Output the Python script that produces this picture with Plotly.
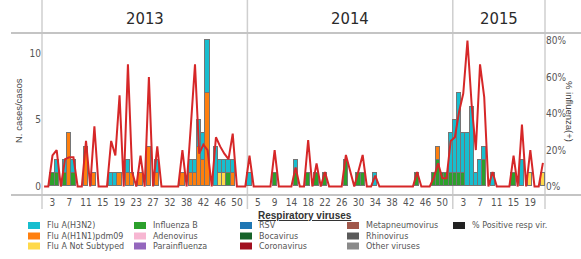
import plotly.graph_objects as go

# ---------------- data ----------------
years = ["2013", "2014", "2015"]
weeks_2013 = [1, 2, 3, 4, 5, 6, 7, 8, 9, 10, 11, 12, 13, 14, 15, 16, 17, 18, 19, 20,
              21, 22, 23, 24, 25, 26, 27, 28, 29, 30, 32, 33, 35, 36, 38, 39, 40, 41, 42, 43,
              44, 45, 46, 47, 48, 49, 50, 51, 52]
weeks_2014 = [3, 4, 5, 6, 7, 8, 9, 10, 11, 13, 14, 15, 16, 17, 18, 19, 20, 21, 22, 23,
              24, 25, 26, 27, 28, 29, 30, 31, 32, 33, 34, 35, 36, 37, 38, 39, 40, 41, 42, 43,
              44, 45, 46, 47, 48, 49, 50, 51, 52]
weeks_2015 = [1, 2, 3, 4, 5, 6, 7, 8, 9, 10, 11, 12, 13, 14, 15, 16, 17, 18, 19, 20, 21, 22]

tick_weeks_2013 = [3, 7, 11, 15, 19, 23, 27, 32, 38, 42, 46, 50]
tick_weeks_2014 = [5, 9, 14, 18, 22, 26, 30, 34, 38, 42, 46, 50]
tick_weeks_2015 = [3, 7, 11, 15, 19]

# Flu A(H3N2)
h3n2_2013 = [0, 0, 0, 1, 0, 1, 0, 1, 0, 0, 0, 0, 0, 0, 0, 0, 1, 1, 0, 0,
             1, 0, 0, 0, 0, 0, 0, 1, 0, 0, 0, 0, 0, 0, 0, 1, 1, 2, 2, 4,
             0, 3, 1, 1, 1, 1, 0, 0, 0]
h3n2_2014 = [1, 0, 0, 0, 0, 0, 0, 0, 0, 0, 0, 1, 0, 0, 0, 0, 0, 0, 0, 0,
             0, 0, 0, 0, 0, 0, 0, 0, 0, 0, 1, 0, 0, 0, 0, 0, 0, 0, 0, 0,
             0, 0, 0, 0, 0, 0, 0, 0, 3]
h3n2_2015 = [4, 6, 3, 4, 6, 1, 2, 1, 0, 1, 0, 0, 0, 0, 0, 0, 2, 0, 0, 0, 0, 0]
# Flu A(H1N1)pdm09
h1n1_2013 = [0, 0, 0, 0, 0, 0, 4, 0, 0, 0, 3, 0, 1, 0, 0, 0, 0, 0, 1, 0,
             1, 1, 0, 1, 0, 3, 0, 1, 0, 0, 0, 0, 0, 1, 0, 1, 1, 3, 2, 7,
             0, 0, 0, 0, 0, 1, 0, 0, 0]
h1n1_2014 = [0, 0, 0, 0, 0, 0, 0, 0, 0, 0, 0, 0, 0, 0, 0, 0, 0, 0, 0, 0,
             0, 0, 0, 0, 0, 0, 0, 0, 0, 0, 0, 0, 0, 0, 0, 0, 0, 0, 0, 0,
             0, 0, 0, 0, 0, 1, 0, 0, 0]
h1n1_2015 = [0, 0, 0, 0, 0, 0, 0, 0, 0, 0, 0, 0, 0, 0, 0, 0, 0, 0, 0, 0, 0, 0]
# Flu A Not Subtyped
notsub_2013 = [0, 0, 0, 0, 0, 0, 0, 0, 0, 0, 0, 0, 0, 0, 0, 0, 0, 0, 0, 0,
               0, 0, 0, 0, 0, 0, 0, 0, 0, 0, 0, 0, 0, 0, 0, 0, 0, 0, 0, 0,
               0, 0, 1, 1, 0, 0, 0, 0, 0]
notsub_2014 = [0, 0, 0, 0, 0, 0, 0, 0, 0, 0, 0, 0, 0, 0, 0, 0, 0, 0, 0, 0,
               0, 0, 0, 0, 0, 0, 0, 0, 0, 0, 0, 0, 0, 0, 0, 0, 0, 0, 0, 0,
               0, 0, 0, 0, 0, 0, 0, 0, 0]
notsub_2015 = [0, 0, 0, 0, 0, 0, 0, 0, 0, 0, 0, 0, 0, 0, 0, 0, 0, 0, 1, 0, 0, 1]
# Influenza B
flub_2013 = [0, 0, 1, 1, 0, 1, 0, 1, 0, 0, 0, 0, 0, 0, 0, 0, 0, 0, 0, 0,
             0, 0, 0, 0, 0, 0, 0, 0, 0, 0, 0, 0, 0, 0, 0, 0, 0, 0, 0, 0,
             0, 0, 0, 0, 1, 0, 0, 0, 0]
flub_2014 = [0, 0, 0, 0, 0, 0, 1, 0, 0, 0, 0, 1, 0, 0, 1, 0, 1, 0, 1, 0,
             0, 0, 0, 2, 0, 0, 1, 1, 0, 0, 0, 0, 0, 0, 0, 0, 0, 0, 0, 0,
             1, 0, 0, 0, 1, 2, 1, 1, 1]
flub_2015 = [1, 1, 1, 0, 0, 0, 0, 2, 0, 0, 0, 0, 0, 0, 1, 0, 0, 0, 0, 0, 0, 0]
# % influenza positive
pct_2013 = [0, 0, 17, 20, 0, 15, 16, 16, 0, 0, 25, 0, 33, 0, 0, 0, 25, 17, 50, 0,
            67, 8, 0, 17, 0, 60, 0, 22, 0, 0, 0, 0, 0, 20, 0, 33, 67, 18, 23, 20,
            0, 27, 22, 18, 15, 29, 0, 0, 0]
pct_2014 = [17, 0, 0, 0, 0, 0, 20, 0, 0, 0, 0, 10.5, 0, 0, 25.5, 0, 12.7, 0, 8, 0,
            0, 0, 0, 17.3, 8.5, 0, 8.5, 17.3, 0, 0, 6, 0, 0, 0, 0, 0, 0, 0, 0, 0,
            8, 0, 0, 0, 5, 12.7, 4.5, 4.5, 25]
pct_2015 = [27, 41, 51, 80, 45, 20, 67, 49, 0, 8, 0, 0, 0, 0, 17, 0, 34, 0, 20, 0, 0, 13]

legend_names = ["Flu A(H3N2)", "Flu A(H1N1)pdm09", "Flu A Not Subtyped",
                "Influenza B", "Adenovirus", "Parainfluenza",
                "RSV", "Bocavirus", "Coronavirus",
                "Metapneumovirus", "Rhinovirus", "Other viruses",
                "% Positive resp vir."]
legend_colors = ["#17becf", "#ff7f0e", "#ffd94a",
                 "#2ca02c", "#f7b6d2", "#9467bd",
                 "#1f77b4", "#17632a", "#a10f1f",
                 "#a0574a", "#5a5a5a", "#8a8a8a",
                 "#222222"]
COL = dict(zip(legend_names, legend_colors))

# ---------------- build ----------------
week_lists = [weeks_2013, weeks_2014, weeks_2015]
cats = [f"{y}-W{w:02d}" for y, ws in zip(years, week_lists) for w in ws]
tickvals, ticktext = [], []
for y, tw in zip(years, [tick_weeks_2013, tick_weeks_2014, tick_weeks_2015]):
    for w in tw:
        tickvals.append(f"{y}-W{w:02d}")
        ticktext.append(str(w))

def nz(v):
    return [x if x else None for x in v]

series = [
    ("Influenza B", flub_2013 + flub_2014 + flub_2015),
    ("Flu A Not Subtyped", notsub_2013 + notsub_2014 + notsub_2015),
    ("Flu A(H1N1)pdm09", h1n1_2013 + h1n1_2014 + h1n1_2015),
    ("Flu A(H3N2)", h3n2_2013 + h3n2_2014 + h3n2_2015),
]
pct = [p / 100 for p in pct_2013 + pct_2014 + pct_2015]

fig = go.Figure()
for name, vals in series:
    fig.add_trace(go.Bar(x=cats, y=nz(vals), name=name, showlegend=False,
                         marker=dict(color=COL[name], line=dict(color="#757575", width=1))))
fig.add_trace(go.Scatter(x=cats, y=pct, mode="lines", yaxis="y2", showlegend=False,
                         line=dict(color="#d62728", width=2)))

W, H = 581, 259
L, R, T, B = 42, 36, 33, 64
pw, ph = W - L - R, H - T - B
def px(xp): return (xp - L) / pw
def py(yp): return (H - B - yp) / ph

TICKF = "DejaVu Sans Condensed, Open Sans, sans-serif"
YEARF = "DejaVu Sans Condensed, Open Sans, sans-serif"
SANS = "Liberation Sans, Arial, sans-serif"
LEGF = "DejaVu Sans, Liberation Sans, sans-serif"

n = len(cats)
bounds = [0]
for ws in week_lists:
    bounds.append(bounds[-1] + len(ws))

shapes = []
for b in bounds:
    shapes.append(dict(type="line", xref="paper", yref="paper", x0=b / n, x1=b / n,
                       y0=py(209), y1=py(0), line=dict(color="#cfcfcf", width=1.5), layer="below"))
for yv in [T, H - B]:
    shapes.append(dict(type="line", xref="paper", yref="paper", x0=px(11), x1=px(581),
                       y0=py(yv), y1=py(yv), line=dict(color="#c4c4c4", width=2), layer="below"))

annotations = []
for i, y in enumerate(years):
    annotations.append(dict(text=y, xref="paper", yref="paper", x=(bounds[i] + bounds[i + 1]) / 2 / n,
                            y=py(18), showarrow=False, xanchor="center", yanchor="middle",
                            font=dict(family=YEARF, size=16.5, color="#2a2a2a")))
annotations.append(dict(text="N. cases/casos", xref="paper", yref="paper", x=px(18), y=py(111),
                        textangle=-90, showarrow=False, xanchor="center", yanchor="middle",
                        font=dict(family=SANS, size=9.5, color="#444444")))
annotations.append(dict(text="% influenza(+)", xref="paper", yref="paper", x=px(570), y=py(111),
                        textangle=90, showarrow=False, xanchor="center", yanchor="middle",
                        font=dict(family=SANS, size=9.5, color="#444444")))
annotations.append(dict(text="<b><u>Respiratory viruses</u></b>", xref="paper", yref="paper",
                        x=px(305), y=py(215), showarrow=False, xanchor="center", yanchor="middle",
                        font=dict(family=SANS, size=10, color="#333333")))

col_x = [28, 134, 240, 347, 453]
row_y = [225.5, 236, 246]
for k, (name, color) in enumerate(zip(legend_names, legend_colors)):
    c, r = divmod(k, 3)
    x0 = col_x[c]
    y0 = row_y[r]
    shapes.append(dict(type="rect", xref="paper", yref="paper", x0=px(x0), x1=px(x0 + 12),
                       y0=py(y0 + 3.5), y1=py(y0 - 3.5), fillcolor=color, line=dict(width=0)))
    annotations.append(dict(text=name, xref="paper", yref="paper", x=px(x0 + 17), y=py(y0),
                            showarrow=False, xanchor="left", yanchor="middle",
                            font=dict(family=LEGF, size=8, color="#555555")))

tickfont = dict(family=TICKF, size=10, color="#555555")
fig.update_layout(
    width=W, height=H, margin=dict(l=L, r=R, t=T, b=B),
    paper_bgcolor="white", plot_bgcolor="white",
    barmode="stack", bargap=0,
    xaxis=dict(type="category", categoryorder="array", categoryarray=cats,
               range=[-0.5, n - 0.5], tickvals=tickvals, ticktext=ticktext,
               showgrid=False, showline=False, zeroline=False, ticks="",
               tickfont=tickfont),
    yaxis=dict(range=[-0.64, 11.52], tickvals=[0, 5, 10], showgrid=False, zeroline=False,
               showline=False, ticks="", tickfont=tickfont),
    yaxis2=dict(overlaying="y", side="right", range=[-0.0466, 0.842],
                tickvals=[0, 0.2, 0.4, 0.6, 0.8], tickformat=".0%", showgrid=False,
                zeroline=False, showline=False, ticks="", tickfont=tickfont),
    shapes=shapes, annotations=annotations,
)
fig.write_html("out.html", config={"displayModeBar": False},
               post_script="document.body.style.margin='0px';")
